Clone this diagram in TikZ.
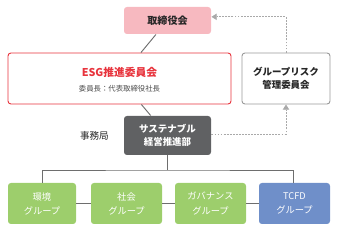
\documentclass[tikz,border=0pt]{standalone}
\usepackage{fontspec}
\setmainfont{Noto Sans CJK JP}
\usepackage{xcolor}
\usepackage{tikz}
\usetikzlibrary{arrows.meta, positioning, calc}
\definecolor{boardpink}{HTML}{F7B9C0}
\definecolor{esgred}{HTML}{E8343D}
\definecolor{darkbox}{HTML}{606163}
\definecolor{grpgreen}{HTML}{9DCE6C}
\definecolor{grpblue}{HTML}{6F8FC9}
\definecolor{linegray}{HTML}{6E6E6E}
\definecolor{dashgray}{HTML}{A9A9A9}
\tikzset{
  box/.style={rectangle, rounded corners=2.5pt, align=center, inner sep=0pt, line width=0.8pt},
  boardbox/.style={box, fill=boardpink, font=\fontsize{8.6}{10}\selectfont\bfseries, text=black!85},
  esgbox/.style={box, draw=esgred, fill=white},
  riskbox/.style={box, draw=black!40, fill=white, font=\fontsize{8.1}{11.5}\selectfont\bfseries, text=black!85},
  darkbox/.style={box, fill=darkbox, font=\fontsize{8.1}{11.5}\selectfont\bfseries, text=white},
  grpbox/.style={box, fill=grpgreen, font=\fontsize{7.9}{12}\selectfont, text=white},
  tcfdbox/.style={box, fill=grpblue, font=\fontsize{7.9}{12}\selectfont, text=white},
  link/.style={draw=linegray, line width=0.8pt},
  dasharrow/.style={draw=dashgray, line width=0.8pt, dash pattern=on 1.6pt off 1pt, -{Triangle[length=4.5pt, width=5.5pt]}},
}

\begin{document}
\begin{tikzpicture}[x=0.03cm, y=-0.03cm]
  \useasboundingbox (0,0) rectangle (337,232);

  % Board
  \node[boardbox, minimum width=87*0.03cm, minimum height=27*0.03cm] (board) at (167.5, 20.5) {取締役会};

  % Committees
  \node[esgbox, minimum width=223*0.03cm, minimum height=51*0.03cm] (esg) at (119.5, 78.5) {};
  \node[font=\fontsize{9.2}{10}\selectfont\bfseries, text=esgred] (esgtitle) at (119.5, 72) {ESG推進委員会};
  \node[font=\fontsize{6.3}{8}\selectfont, text=black!70] (esgchair) at (119.5, 88.5) {委員長：代表取締役社長};
  \node[riskbox, minimum width=88*0.03cm, minimum height=51*0.03cm] (risk) at (286, 78.5) {グループリスク\\管理委員会};

  % Secretariat
  \node[darkbox, minimum width=87*0.03cm, minimum height=39*0.03cm] (sust) at (167.5, 135.5) {サステナブル\\経営推進部};
  \node[font=\fontsize{8.2}{10}\selectfont, text=black!85, left=9pt of sust] (office) {事務局};

  % Groups
  \node[grpbox, minimum width=68*0.03cm, minimum height=41*0.03cm] (env) at (42, 203.5) {環境\\グループ};
  \node[grpbox, minimum width=71*0.03cm, minimum height=41*0.03cm] (soc) at (126.5, 203.5) {社会\\グループ};
  \node[grpbox, minimum width=71*0.03cm, minimum height=41*0.03cm] (gov) at (210.5, 203.5) {ガバナンス\\グループ};
  \node[tcfdbox, minimum width=71*0.03cm, minimum height=41*0.03cm] (tcfd) at (294.5, 203.5) {TCFD\\グループ};

  % Solid links
  \coordinate (bus) at (167.5, 170);
  \draw[link] (board) -- (esg);
  \draw[link] (esg) -- (sust);
  \draw[link] (sust) -- (bus);
  \draw[link] (env.north) |- (bus) -| ([xshift=-1.5*0.03cm]tcfd.north);
  \draw[link] (env) -- (soc);
  \draw[link] (soc) -- (gov);
  \draw[link] (gov) -- (tcfd);

  % Reporting line
  \draw[dasharrow] ([yshift=1.5*0.03cm]sust.east) -| (risk.south);
  \draw[dasharrow] (risk.north) |- ([yshift=1.1mm]board.east);
\end{tikzpicture}
\end{document}
